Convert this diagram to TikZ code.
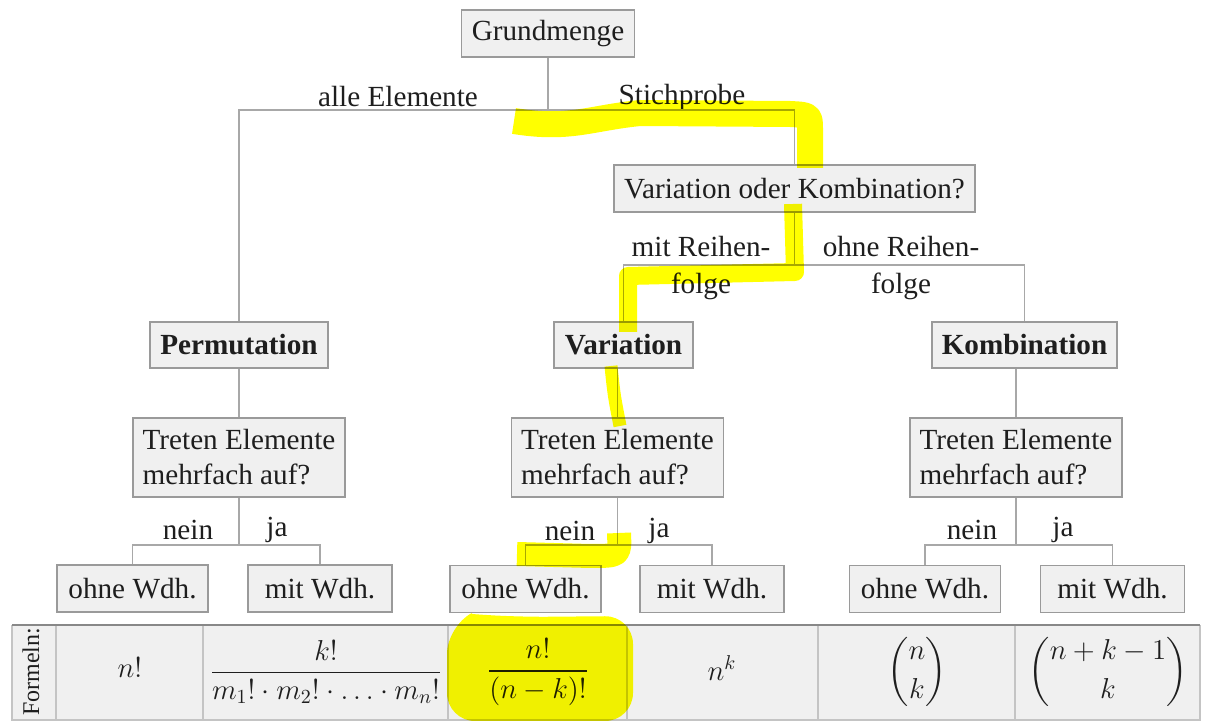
\documentclass[tikz,border=0pt]{standalone}
\usepackage{amsmath}
\usepackage{fontspec}
\setmainfont{Liberation Serif}
\definecolor{boxfill}{HTML}{F0F0F0}
\definecolor{boxline}{HTML}{9A9A9A}
\definecolor{connc}{HTML}{A8A8A8}
\definecolor{hl}{HTML}{FFFF00}
\definecolor{txt}{HTML}{1E1E1E}
\definecolor{tabline}{HTML}{C4C4C4}
\definecolor{tabtop}{HTML}{888888}
\begin{document}
\begin{tikzpicture}[x=0.5pt,y=-0.5pt,
  font=\fontsize{14.6}{17.5}\selectfont, text=txt,
  box/.style={draw=boxline, fill=boxfill, line width=0.7pt, inner sep=0pt, align=center},
  twoline/.style={box, align=left},
  conn/.style={draw=connc, line width=0.7pt},
  lbl/.style={inner sep=0pt, align=center},
  hls/.style={draw=hl, line cap=butt, line join=round, blend mode=multiply},
  cell/.style={inner sep=0pt}]
\useasboundingbox (0,0) rectangle (1207,721);

% ---- tree nodes
\node[box, minimum width=86.5pt, minimum height=23.5pt] (grund) at (548,33.5) {Grundmenge};
\node[box, minimum width=180.5pt, minimum height=23.5pt] (vok) at (794.5,188.5) {Variation oder Kombination?};
\node[box, minimum width=89pt, minimum height=23pt, font=\fontsize{14.6}{17.5}\selectfont\bfseries] (perm) at (239,345) {Permutation};
\node[box, minimum width=69.5pt, minimum height=23pt, font=\fontsize{14.6}{17.5}\selectfont\bfseries] (var) at (623.5,345) {Variation};
\node[box, minimum width=92.5pt, minimum height=23pt, font=\fontsize{14.6}{17.5}\selectfont\bfseries] (komb) at (1024.5,345) {Kombination};

\node[twoline, minimum width=106pt, minimum height=39.5pt] (t1) at (239,457.5) {Treten Elemente\\mehrfach auf?};
\node[twoline, minimum width=106pt, minimum height=39.5pt] (t2) at (617.5,457.5) {Treten Elemente\\mehrfach auf?};
\node[twoline, minimum width=106pt, minimum height=39.5pt] (t3) at (1016,457.5) {Treten Elemente\\mehrfach auf?};

\node[box, minimum width=75.5pt, minimum height=23.5pt] (o1) at (132.5,588.5) {ohne Wdh.};
\node[box, minimum width=72pt, minimum height=23.5pt] (m1) at (320,588.5) {mit Wdh.};
\node[box, minimum width=75.5pt, minimum height=23.5pt] (o2) at (525.5,589) {ohne Wdh.};
\node[box, minimum width=72pt, minimum height=23.5pt] (m2) at (712,589) {mit Wdh.};
\node[box, minimum width=75.5pt, minimum height=23.5pt] (o3) at (925,589) {ohne Wdh.};
\node[box, minimum width=72pt, minimum height=23.5pt] (m3) at (1112.5,589) {mit Wdh.};

% ---- labels
\node[lbl] (lalle) at (398,97) {alle Elemente};
\node[lbl] (lstich) at (682,97) {Stichprobe};
\node[lbl] (lmit) at (701,268) {mit Reihen-\\[1pt]folge};
\node[lbl] (lohne) at (901,268) {ohne Reihen-\\[1pt]folge};
\node[lbl] (n1) at (188,530) {nein};
\node[lbl] (j1) at (277,530) {ja};
\node[lbl] (n2) at (570,531) {nein};
\node[lbl] (j2) at (659,531) {ja};
\node[lbl] (n3) at (972,530) {nein};
\node[lbl] (j3) at (1063,530) {ja};

% ---- connectors
\coordinate (b1) at (548,110);
\draw[conn] (grund.south) -- (b1);
\draw[conn] (perm.north) |- (b1) -| (vok.north);
\coordinate (b2) at (794.5,265);
\draw[conn] (vok.south) -- (b2);
\draw[conn] (var.north) |- (b2) -| (komb.north);
\draw[conn] (perm.south) -- (t1.north);
\draw[conn] (var.south -| t2.north) -- (t2.north);
\draw[conn] (komb.south -| t3.north) -- (t3.north);
\coordinate (c1) at (239,545);
\coordinate (c2) at (617.5,545);
\coordinate (c3) at (1016,545);
\draw[conn] (t1.south) -- (c1);
\draw[conn] (o1.north) |- (c1) -| (m1.north);
\draw[conn] (t2.south) -- (c2);
\draw[conn] (o2.north) |- (c2) -| (m2.north);
\draw[conn] (t3.south) -- (c3);
\draw[conn] (o3.north) |- (c3) -| (m3.north);

% ---- table
\fill[boxfill] (12,625) rectangle (1200,721);
\foreach \cx in {56,203,448,627,818,1015}{
  \draw[tabline, line width=0.8pt] (\cx,625) -- (\cx,721);
}
\draw[tabline, line width=0.8pt] (12,625) -- (12,720) -- (1200,720) -- (1200,625);
\draw[tabtop, line width=1.2pt] (12,625) -- (1200,625);

\node[cell, rotate=90, font=\fontsize{12}{14}\selectfont] (formeln) at (31,672) {Formeln:};
\node[cell] (f1) at (130,668) {$n!$};
\node[cell] (f2) at (326,672) {$\dfrac{k!}{m_1!\cdot m_2!\cdot\ldots\cdot m_n!}$};
\node[cell] (f3) at (538,672) {$\dfrac{n!}{(n-k)!}$};
\node[cell] (f4) at (722,668) {$n^k$};
\node[cell] (f5) at (917,672) {$\dbinom{n}{k}$};
\node[cell] (f6) at (1108,672) {$\dbinom{n+k-1}{k}$};

% ---- yellow highlighter strokes
\draw[hls, line width=13pt] (514,121) .. controls (570,130) and (590,118) .. (640,113)
  -- (790,114) .. controls (810,115) .. (810,130) -- (810,168);
\draw[hls, line width=9pt] (793,204) -- (795,272) -- (628,276) -- (628,332);
\draw[hls, line width=6.5pt] (611,366) .. controls (614,395) .. (620,426);
\draw[hls, line width=12pt] (619,533) .. controls (620,556) .. (590,556) -- (517,554);
\fill[hl, blend mode=multiply, rounded corners=14pt] (447,626) .. controls (470,614) .. (520,617) -- (633,616) -- (633,721) -- (447,721) -- cycle;
\end{tikzpicture}
\end{document}
